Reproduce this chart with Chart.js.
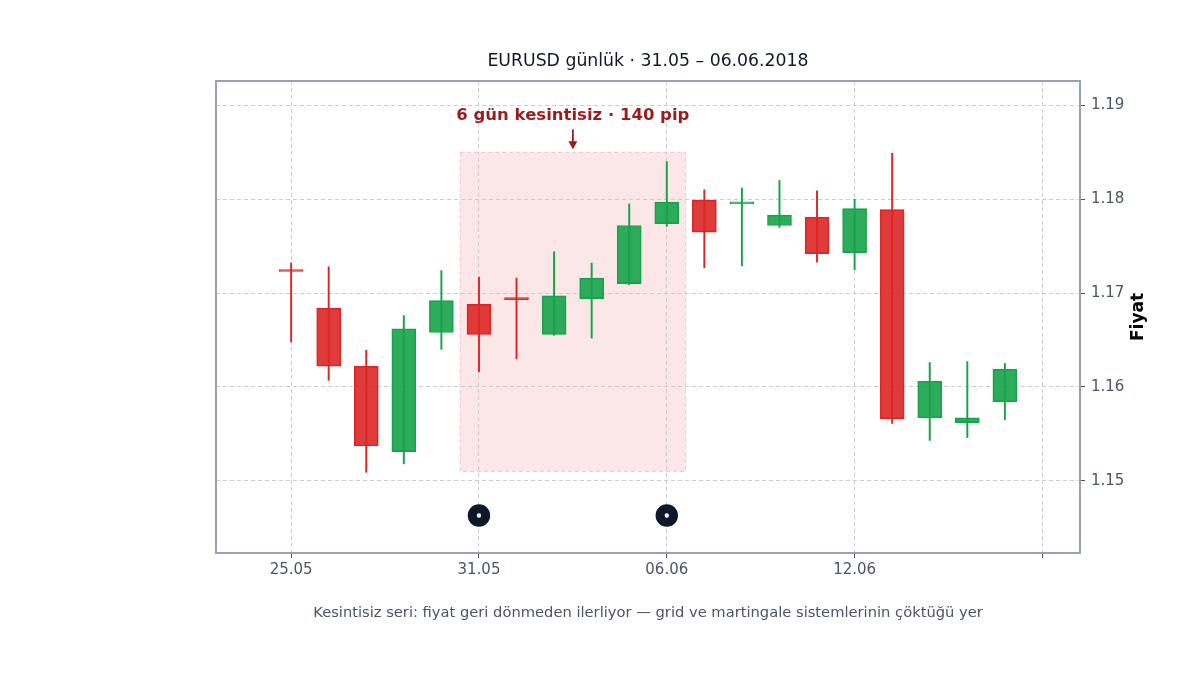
<!DOCTYPE html>
<html>
<head>
<meta charset="utf-8">
<script src="https://cdn.jsdelivr.net/npm/chart.js@4/dist/chart.umd.min.js"></script>
<style>
  html, body { margin: 0; padding: 0; background: #ffffff; }
  #wrap { width: 1200px; height: 675px; }
</style>
</head>
<body>
<div id="wrap"><canvas id="chart" width="1200" height="675"></canvas></div>
<script>
// daily candles, index 0 = 25.05
const opens  = [1.1724, 1.1684, 1.1622, 1.1531, 1.1658, 1.1688, 1.1694, 1.1656, 1.1694, 1.1710, 1.1774, 1.1799, 1.1795, 1.1772, 1.1781, 1.1743, 1.1789, 1.1567, 1.1562, 1.1584];
const closes = [1.1723, 1.1622, 1.1537, 1.1662, 1.1692, 1.1656, 1.1693, 1.1697, 1.1716, 1.1772, 1.1797, 1.1765, 1.1796, 1.1783, 1.1742, 1.1790, 1.1566, 1.1606, 1.1567, 1.1619];
const highs  = [1.1732, 1.1728, 1.1639, 1.1676, 1.1724, 1.1717, 1.1716, 1.1744, 1.1732, 1.1795, 1.1840, 1.1810, 1.1812, 1.1820, 1.1809, 1.1800, 1.1849, 1.1626, 1.1627, 1.1625];
const lows   = [1.1648, 1.1607, 1.1509, 1.1518, 1.1640, 1.1616, 1.1630, 1.1655, 1.1652, 1.1709, 1.1771, 1.1727, 1.1729, 1.1770, 1.1733, 1.1725, 1.1561, 1.1543, 1.1546, 1.1565];

const xTickPos = [0, 5, 10, 15, 20];
const xTickLabels = ['25.05', '31.05', '06.06', '12.06', ''];
const yTickPos = [1.15, 1.16, 1.17, 1.18, 1.19];

// streak zone and the two session markers
const streakX = [4.5, 10.5];
const streakY = [1.151, 1.185];
const streakText = '6 gün kesintisiz · 140 pip';
const markerX = [5, 10];
const markerY = 1.1463;

const titleText = 'EURUSD günlük · 31.05 – 06.06.2018';

const RED = '#dc2626', GREEN = '#16a34a';
const RED_FILL = 'rgba(220,38,38,0.9)', GREEN_FILL = 'rgba(22,163,74,0.9)';

const up = opens.map((o, i) => closes[i] >= o);
const colors = up.map(u => u ? GREEN : RED);
const fills = up.map(u => u ? GREEN_FILL : RED_FILL);

const zonePlugin = {
  id: 'zone',
  beforeDraw(chart) {
    const { ctx, scales: { x, y } } = chart;
    const x0 = x.getPixelForValue(streakX[0]), x1 = x.getPixelForValue(streakX[1]);
    const y0 = y.getPixelForValue(streakY[1]), y1 = y.getPixelForValue(streakY[0]);
    ctx.save();
    ctx.fillStyle = 'rgba(220,38,38,0.11)';
    ctx.fillRect(x0, y0, x1 - x0, y1 - y0);
    ctx.strokeStyle = 'rgba(220,38,38,0.22)';
    ctx.lineWidth = 1;
    ctx.setLineDash([4, 3]);
    ctx.strokeRect(x0, y0, x1 - x0, y1 - y0);
    ctx.restore();
  },
  afterDraw(chart) {
    const { ctx, chartArea: a, scales: { x, y } } = chart;
    const mid = (a.left + a.right) / 2;
    ctx.save();
    // frame
    ctx.strokeStyle = '#94a3b8';
    ctx.lineWidth = 2;
    ctx.strokeRect(a.left, a.top, a.right - a.left, a.bottom - a.top);

    ctx.textAlign = 'center';
    ctx.textBaseline = 'middle';

    // title over the plot
    ctx.fillStyle = '#111827';
    ctx.font = '17.3px "DejaVu Sans"';
    ctx.fillText(titleText, mid, a.top - 19);

    // label + arrow above the zone
    const cx = x.getPixelForValue((streakX[0] + streakX[1]) / 2);
    const tip = y.getPixelForValue(streakY[1]) - 3;
    ctx.strokeStyle = '#9b1c1c';
    ctx.fillStyle = '#9b1c1c';
    ctx.lineWidth = 1.8;
    ctx.beginPath();
    ctx.moveTo(cx, tip - 20);
    ctx.lineTo(cx, tip - 2);
    ctx.stroke();
    ctx.beginPath();
    ctx.moveTo(cx - 4.5, tip - 8);
    ctx.lineTo(cx, tip);
    ctx.lineTo(cx + 4.5, tip - 8);
    ctx.closePath();
    ctx.fill();
    ctx.font = 'bold 16.5px "DejaVu Sans"';
    ctx.fillText(streakText, cx, tip - 34);

    // y axis title, reading upward
    ctx.translate(1139, (a.top + a.bottom) / 2);
    ctx.rotate(-Math.PI / 2);
    ctx.fillStyle = '#000000';
    ctx.font = 'bold 17px "DejaVu Sans"';
    ctx.fillText('Fiyat', 0, 0);
    ctx.restore();
  }
};

new Chart(document.getElementById('chart'), {
  type: 'bar',
  data: {
    datasets: [
      {
        label: 'wick',
        data: highs.map((h, i) => ({ x: i, y: [lows[i], h] })),
        backgroundColor: colors,
        barThickness: 1.3,
        grouped: false,
        order: 2
      },
      {
        label: 'body',
        data: opens.map((o, i) => ({ x: i, y: [o, closes[i]] })),
        backgroundColor: fills,
        borderColor: colors,
        borderWidth: 1,
        borderSkipped: false,
        barThickness: 24,
        minBarLength: 2,
        grouped: false,
        order: 1
      },
      {
        type: 'scatter',
        label: 'marker',
        data: markerX.map(v => ({ x: v, y: markerY })),
        pointRadius: 6.7,
        pointBorderWidth: 9,
        pointBackgroundColor: '#ffffff',
        pointBorderColor: '#0f172a',
        order: 0
      }
    ]
  },
  options: {
    responsive: false,
    animation: false,
    devicePixelRatio: 1,
    font: { family: 'DejaVu Sans' },
    layout: { padding: { left: 216, right: 0, top: 81, bottom: 0 } },
    plugins: {
      legend: { display: false },
      tooltip: { enabled: false },
      title: { display: false }
    },
    scales: {
      x: {
        type: 'linear',
        min: -2,
        max: 21,
        offset: false,
        afterBuildTicks: s => { s.ticks = xTickPos.map(v => ({ value: v })); },
        afterFit: s => { s.height = 122; },
        ticks: {
          color: '#4a5568',
          font: { family: 'DejaVu Sans', size: 15 },
          padding: 3,
          maxRotation: 0,
          autoSkip: false,
          callback: v => xTickLabels[xTickPos.indexOf(v)] ?? ''
        },
        grid: { color: '#cccccc', offset: false, tickLength: 5, tickColor: '#4a5568', tickWidth: 1 },
        border: { display: false, dash: [4, 3] },
        title: {
          display: true,
          text: 'Kesintisiz seri: fiyat geri dönmeden ilerliyor — grid ve martingale sistemlerinin çöktüğü yer',
          color: '#4a5568',
          font: { family: 'DejaVu Sans', size: 14.7 },
          padding: { top: 4, bottom: 53 }
        }
      },
      y: {
        position: 'right',
        min: 1.1423,
        max: 1.1926,
        afterBuildTicks: s => { s.ticks = yTickPos.map(v => ({ value: v })); },
        afterFit: s => { s.width = 120; },
        ticks: {
          color: '#4a5568',
          font: { family: 'DejaVu Sans', size: 15 },
          padding: 6,
          callback: v => v.toFixed(2)
        },
        grid: { color: '#cccccc', tickLength: 5, tickColor: '#4a5568', tickWidth: 1 },
        border: { display: false, dash: [4, 3] }
      }
    }
  },
  plugins: [zonePlugin]
});
</script>
</body>
</html>
